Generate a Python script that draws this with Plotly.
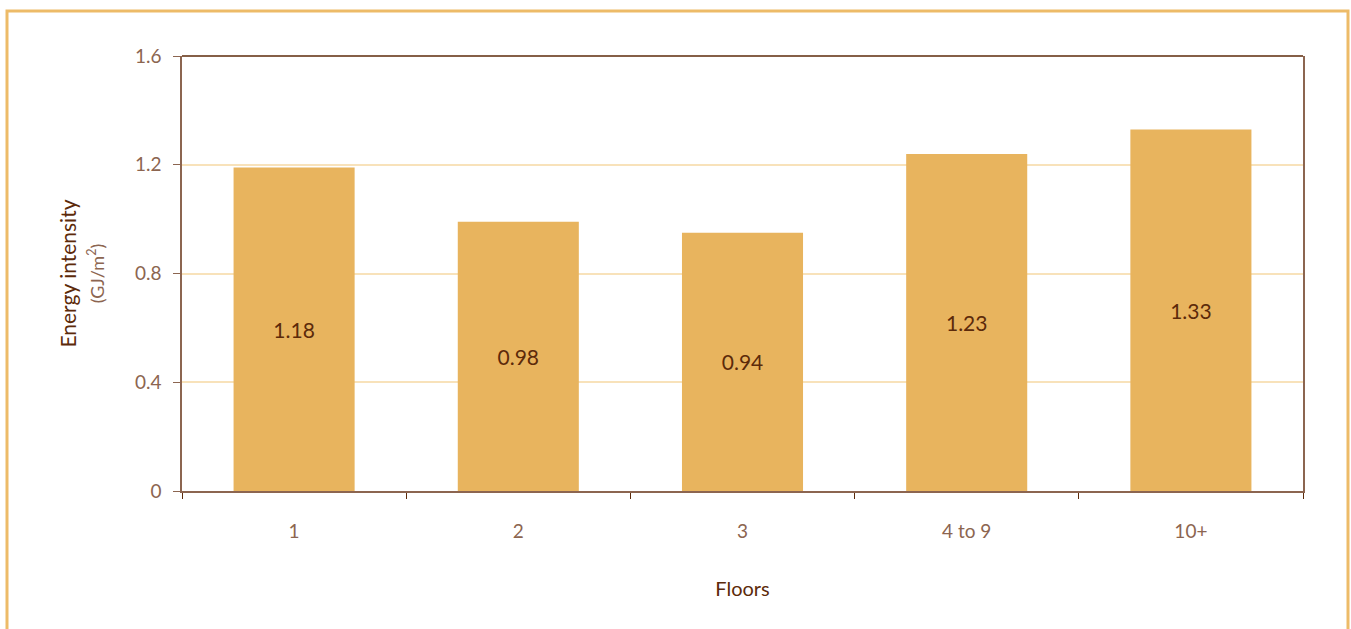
import plotly.graph_objects as go

categories = ["1", "2", "3", "4 to 9", "10+"]
bar_values = [1.19, 0.99, 0.95, 1.24, 1.33]
bar_labels = ["1.18", "0.98", "0.94", "1.23", "1.33"]
y_ticks = [0, 0.4, 0.8, 1.2, 1.6]
y_tick_text = ["0", "0.4", "0.8", "1.2", "1.6"]

W, H = 1351, 629
L, R, T, B = 182, 48, 56, 138
pw, ph = W - L - R, H - T - B

FONT = "Lato"
BAR = "#E8B45E"
DARK = "#5C2A0A"
MID = "#8C6550"
GRID = "#F8E2BA"
FRAME = "#EDBB68"

fig = go.Figure(go.Bar(
    x=categories, y=bar_values, text=bar_labels,
    textposition="inside", insidetextanchor="middle",
    textfont=dict(family=FONT, size=21, color=DARK),
    marker=dict(color=BAR, line=dict(width=0)),
    cliponaxis=False, hoverinfo="skip",
))

def px_x(x):
    return (x - L) / pw

def px_y(y):
    return (H - B - y) / ph

fig.update_layout(
    width=W, height=H,
    margin=dict(l=L, r=R, t=T, b=B),
    paper_bgcolor="white", plot_bgcolor="white",
    bargap=0.46, showlegend=False,
    font=dict(family=FONT, color=MID),
    shapes=[
        dict(type="rect", xref="paper", yref="paper",
             x0=px_x(7), x1=px_x(1348), y0=px_y(660), y1=px_y(11),
             line=dict(color=FRAME, width=3), layer="below"),
        dict(type="line", xref="paper", yref="paper",
             x0=0, x1=1, y0=1, y1=1,
             line=dict(color=DARK, width=1.5)),
    ],
)

fig.update_xaxes(
    type="category",
    showline=True, linecolor=MID, linewidth=1.5,
    ticks="outside", tickson="boundaries", ticklen=6, tickcolor=DARK, tickwidth=1,
    tickfont=dict(family=FONT, size=19, color=MID),
    ticklabelstandoff=22,
    showgrid=False,
    title=dict(text="Floors", font=dict(family=FONT, size=20, color=DARK), standoff=41),
)

fig.update_yaxes(
    range=[0, 1.6], tickvals=y_ticks, ticktext=y_tick_text,
    showline=True, linecolor=MID, linewidth=1.5, mirror=True,
    ticks="outside", ticklen=7, tickcolor=MID, tickwidth=1,
    tickfont=dict(family=FONT, size=19, color=MID),
    ticklabelstandoff=8,
    showgrid=True, gridcolor=GRID, gridwidth=1.5,
    zeroline=False,
    title=dict(
        text="Energy intensity<br><span style='font-size:18px;color:#8C6550'>(GJ/m<sup>2</sup>)</span>",
        font=dict(family=FONT, size=21, color=DARK), standoff=25),
)

fig.write_html("out.html")
